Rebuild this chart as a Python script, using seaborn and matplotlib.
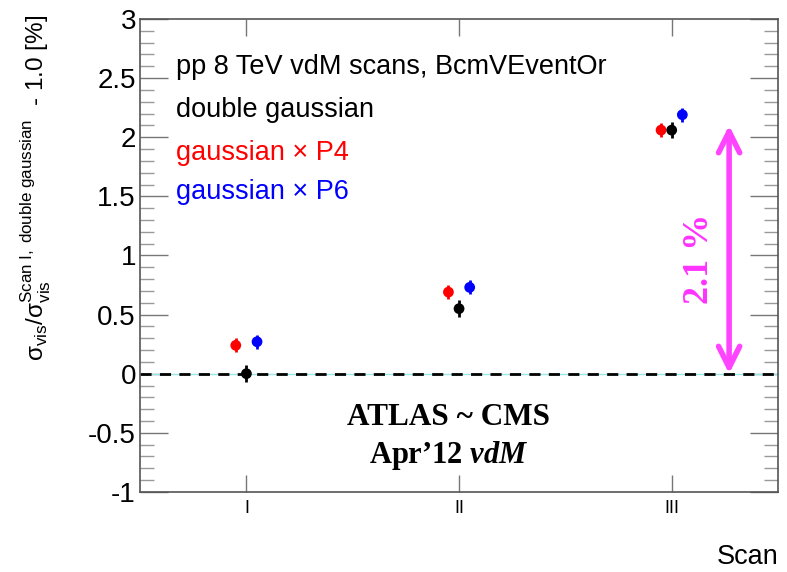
import numpy as np
import pandas as pd
import matplotlib
matplotlib.use("Agg")
import matplotlib.pyplot as plt
import seaborn as sns

# datos
scans = ["I", "II", "III"]
scan_pos = [1, 2, 3]
series = ["gaussian x P4", "gaussian x P6", "double gaussian"]
offsets = [-0.05, 0.05, 0.0]
colores = ["#ff0000", "#0000ff", "#000000"]
vals_p4 = [0.24, 0.69, 2.06]
vals_p6 = [0.27, 0.73, 2.19]
vals_dg = [0.00, 0.55, 2.06]
err_p4 = [0.06, 0.06, 0.06]
err_p6 = [0.06, 0.06, 0.06]
err_dg = [0.07, 0.07, 0.07]
diff_total = 2.1

sns.set_style("white")
plt.rcParams["font.family"] = ["Liberation Sans", "DejaVu Sans"]
plt.rcParams["mathtext.fontset"] = "custom"
plt.rcParams["mathtext.rm"] = "Liberation Sans"
plt.rcParams["mathtext.it"] = "Liberation Serif:italic:bold"
plt.rcParams["text.color"] = "black"
plt.rcParams["axes.labelcolor"] = "black"
plt.rcParams["xtick.labelcolor"] = "black"
plt.rcParams["ytick.labelcolor"] = "black"

filas = []
for nombre, off, v, e in zip(series, offsets, [vals_p4, vals_p6, vals_dg], [err_p4, err_p6, err_dg]):
    for s, x, y, ee in zip(scans, scan_pos, v, e):
        filas.append({"serie": nombre, "scan": s, "x": x + off, "y": y, "err": ee})
df = pd.DataFrame(filas)

fig = plt.figure(figsize=(7.87, 5.72), dpi=100)
ax = fig.add_axes([0.178, 0.14, 0.8106, 0.8268])

# linea de referencia en cero
ax.axhline(0, color="#99e6e6", lw=1, zorder=1)
ax.axhline(0, color="black", lw=2, ls=(0, (4, 3)), zorder=2)

for nombre, c in zip(series, colores):
    d = df[df["serie"] == nombre]
    ax.errorbar(d["x"], d["y"], yerr=d["err"], fmt="none", ecolor=c, elinewidth=2, capsize=0, zorder=3)
sns.scatterplot(data=df, x="x", y="y", hue="serie", hue_order=series, palette=colores,
                s=60, edgecolor="none", legend=False, ax=ax, zorder=4)

# flecha de la diferencia
ax.annotate("", xy=(3.27, diff_total), xytext=(3.27, 0),
            arrowprops=dict(arrowstyle="<->", lw=4, color="#ff44ff", mutation_scale=38,
                            shrinkA=0, shrinkB=0))
ax.text(3.13, 0.97, "2.1 %", rotation=90, color="#ff33ff", fontsize=26, fontweight="bold",
        family="Liberation Serif", ha="center", va="center")

ax.text(0.67, 2.59, "pp 8 TeV vdM scans, BcmVEventOr", fontsize=19.5, va="center")
ax.text(0.67, 2.23, "double gaussian", fontsize=19.5, va="center")
ax.text(0.67, 1.865, "gaussian \u00d7 P4", fontsize=19.5, va="center", color="#ff0000")
ax.text(0.67, 1.535, "gaussian \u00d7 P6", fontsize=19.5, va="center", color="#0000ff")

ax.text(1.95, -0.37, "ATLAS ~ CMS", fontsize=22.5, fontweight="bold", family="Liberation Serif",
        ha="center", va="center")
ax.text(1.95, -0.69, "Apr\u201912 $vdM$", fontsize=22, fontweight="bold",
        family="Liberation Serif", ha="center", va="center")

ax.set_xlim(0.5, 3.5)
ax.set_ylim(-1, 3)
ax.set_xticks(scan_pos)
ax.set_xticklabels(scans, fontsize=13)
ax.set_yticks(np.arange(-1, 3.01, 0.5))
ax.set_yticklabels(["-1", "-0.5", "0", "0.5", "1", "1.5", "2", "2.5", "3"], fontsize=20)
ax.set_yticks(np.arange(-1, 3.01, 0.1), minor=True)
ax.tick_params(axis="y", which="major", direction="in", length=20, width=1, color="#777777",
               left=True, right=True, pad=3)
ax.tick_params(axis="y", which="minor", direction="in", length=10, width=1, color="#999999",
               left=True, right=True)
ax.tick_params(axis="x", which="major", direction="in", length=12, width=1, color="#777777",
               bottom=True, top=True, pad=6)
for sp in ax.spines.values():
    sp.set_color("#555555")
    sp.set_linewidth(1.2)

ax.set_xlabel("Scan", fontsize=19.5, loc="right", labelpad=19)
ax.set_ylabel("$\\mathrm{\\sigma_{vis}/\\sigma_{vis}^{Scan\\ I,\\ double\\ gaussian}}$  - 1.0 [%]",
              fontsize=17.5, loc="top")
ax.yaxis.set_label_coords(-0.137, 1.008)

fig.savefig("out.png", dpi=100)
